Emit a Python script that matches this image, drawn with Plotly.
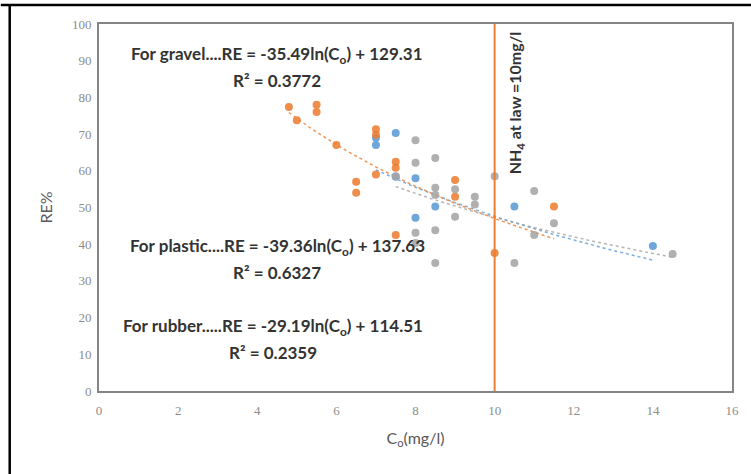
import numpy as np
import plotly.graph_objects as go

# ---- data ----
gravel_x = [7.0, 7.0, 7.5, 7.5, 8.0, 8.0, 8.5, 10.5, 14.0]
gravel_y = [69.0, 67.0, 70.3, 58.4, 58.0, 47.2, 50.3, 50.3, 39.5]

plastic_x = [4.8, 5.0, 5.5, 5.5, 6.0, 6.5, 6.5, 7.0, 7.0, 7.0, 7.5, 7.5, 7.5, 9.0, 9.0, 10.0, 11.5]
plastic_y = [77.4, 73.8, 78.0, 76.0, 67.0, 57.0, 54.0, 71.3, 69.8, 59.0, 62.5, 60.8, 42.5, 57.5, 52.9, 37.6, 50.3]

rubber_x = [7.5, 8.0, 8.0, 8.0, 8.0, 8.5, 8.5, 8.5, 8.5, 8.5, 9.0, 9.0, 9.5, 9.5, 10.0, 10.5, 11.0, 11.0, 11.5, 14.5]
rubber_y = [58.5, 68.3, 62.2, 43.1, 40.3, 63.5, 55.4, 53.4, 43.8, 34.9, 55.0, 47.5, 52.9, 50.8, 58.5, 34.9, 54.5, 42.5, 45.7, 37.3]

# logarithmic trendline coefficients as printed on the chart: RE = a*ln(Co) + b
gravel_fit = (-35.49, 129.31, 0.3772)
plastic_fit = (-39.36, 137.63, 0.6327)
rubber_fit = (-29.19, 114.51, 0.2359)

LAW_LIMIT = 10  # NH4 at law (mg/l)

x_ticks = [0, 2, 4, 6, 8, 10, 12, 14, 16]
y_ticks = [0, 10, 20, 30, 40, 50, 60, 70, 80, 90, 100]

BLUE = "#5B9BD5"
ORANGE = "#ED7D31"
GREY = "#A5A5A5"

fig = go.Figure()


def trend(xs, fit):
    a, b, _ = fit
    xx = np.linspace(min(xs), max(xs), 60)
    return xx, a * np.log(xx) + b


series = [
    ("gravel", gravel_x, gravel_y, gravel_fit, BLUE),
    ("plastic", plastic_x, plastic_y, plastic_fit, ORANGE),
    ("rubber", rubber_x, rubber_y, rubber_fit, GREY),
]

for name, xs, ys, fit, col in series:
    tx, ty = trend(xs, fit)
    fig.add_trace(go.Scatter(x=tx, y=ty, mode="lines",
                             line=dict(color=col, width=1.5, dash="dot"), opacity=0.8,
                             showlegend=False, hoverinfo="skip"))

for name, xs, ys, fit, col in series:
    fig.add_trace(go.Scatter(x=xs, y=ys, mode="markers", name=name,
                             marker=dict(color=col, size=8, opacity=0.88),
                             showlegend=False))

# vertical limit line
fig.add_trace(go.Scatter(x=[LAW_LIMIT, LAW_LIMIT], y=[y_ticks[0], y_ticks[-1]], mode="lines",
                         line=dict(color=ORANGE, width=2), showlegend=False, hoverinfo="skip"))

FONT = "Lato"
TXT = "#333333"
FS = 17
ann = []


def eq_text(label, fit):
    a, b, _ = fit
    dots = "....." if label == "rubber" else "...."
    return f"For {label}{dots}RE = {a:.2f}ln(C<sub>o</sub>) + {b:.2f}"


positions = [("gravel", gravel_fit, 4.5, 91.5, 84.7),
             ("plastic", plastic_fit, 4.5, 39.2, 32.4),
             ("rubber", rubber_fit, 4.4, 17.4, 10.4)]
for label, fit, xc, y1, y2 in positions:
    ann.append(dict(x=xc, y=y1, xref="x", yref="y", text="<b>" + eq_text(label, fit) + "</b>",
                    showarrow=False, font=dict(family=FONT, size=FS, color=TXT)))
    ann.append(dict(x=xc, y=y2, xref="x", yref="y", text=f"<b>R² = {fit[2]:.4f}</b>",
                    showarrow=False, font=dict(family=FONT, size=FS, color=TXT)))

ann.append(dict(x=10.55, y=78.5, xref="x", yref="y",
                text=f"<b>NH<sub>4</sub> at law ={LAW_LIMIT}mg/l</b>", textangle=-90,
                showarrow=False, font=dict(family=FONT, size=16, color=TXT)))

fig.update_layout(
    width=751, height=474,
    margin=dict(l=99, r=14, t=24, b=83),
    paper_bgcolor="white", plot_bgcolor="white",
    annotations=ann,
    shapes=[
        dict(type="line", xref="paper", yref="paper", x0=-99/638, x1=1.1, y0=1 + 19/367, y1=1 + 19/367,
             line=dict(color="black", width=2.5)),
        dict(type="line", xref="paper", yref="paper", x0=-90/638, x1=-90/638, y0=-0.3, y1=1 + 19/367,
             line=dict(color="black", width=2.5)),
    ],
    xaxis=dict(range=[0, 16], tickvals=x_ticks, showgrid=False, zeroline=False,
               showline=True, linecolor="#858585", linewidth=2, mirror=True,
               ticks="", ticklabelstandoff=6,
               tickfont=dict(family="Liberation Serif", size=13, color="#8c8c8c"),
               title=dict(text="C<sub>o</sub>(mg/l)", font=dict(family=FONT, size=16, color="#595959"),
                          standoff=16)),
    yaxis=dict(range=[0, 100], tickvals=y_ticks, showgrid=False, zeroline=False,
               showline=True, linecolor="#858585", linewidth=2, mirror=True,
               ticks="", ticklabelstandoff=3,
               tickfont=dict(family="Liberation Serif", size=13, color="#8c8c8c"),
               title=dict(text="RE%", font=dict(family=FONT, size=16, color="#595959"),
                          standoff=15)),
)

fig.write_html("out.html")
